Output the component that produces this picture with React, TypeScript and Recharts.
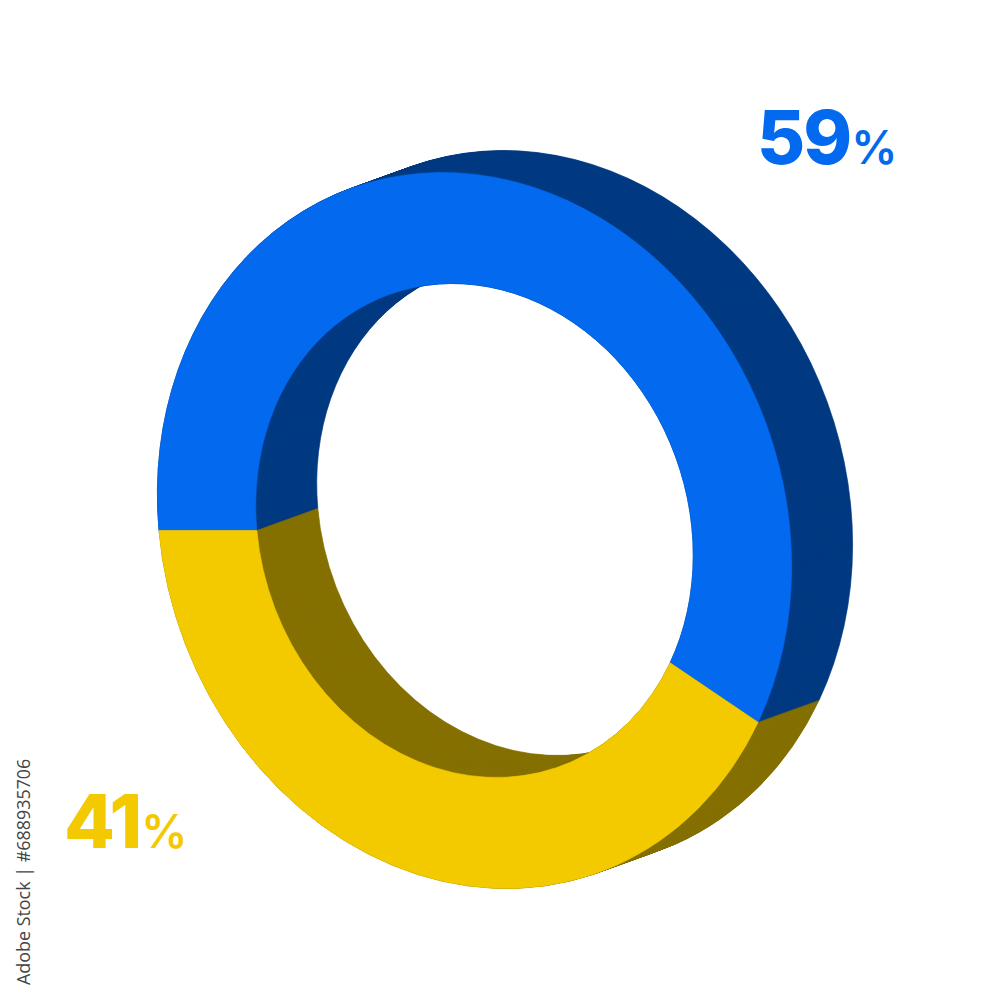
import React from 'react';
import { PieChart, Pie, Cell } from 'recharts';

const segments = ['Blue', 'Yellow'];
const values = [59, 41];
const frontColors = ['#0369ee', '#f3c900'];
const sideColors = ['#013a82', '#857000'];

// the flat ring is sheared into the tilted ellipse, all numbers in screen px
const RADIUS = 300;
const INNER_RATIO = 0.69;
const CENTER = { x: 474.5, y: 530.5 };
const SHEAR = { a: 315.5 / RADIUS, c: 32 / RADIUS, d: 358 / RADIUS };
const DEPTH = { x: 61, y: -22 };
const DEPTH_STEPS = 61;

const chartData = segments.map((name, i) => ({ name, value: values[i] }));

// screen offset -> offset before the shear
const toChartOffset = (dx: number, dy: number) => {
  const y = dy / SHEAR.d;
  return { x: (dx - SHEAR.c * y) / SHEAR.a, y };
};

const Ring: React.FC<{ dx: number; dy: number; colors: string[]; id: string }> = ({ dx, dy, colors, id }) => {
  const offset = toChartOffset(dx, dy);
  return (
    <Pie
      key={id}
      data={chartData}
      dataKey="value"
      nameKey="name"
      cx={500 + offset.x}
      cy={500 + offset.y}
      outerRadius={RADIUS}
      innerRadius={RADIUS * INNER_RATIO}
      startAngle={180}
      endAngle={-180}
      stroke="none"
      isAnimationActive={false}
    >
      {chartData.map((d, i) => (
        <Cell key={d.name} fill={colors[i]} stroke={colors[i]} strokeWidth={0.6} />
      ))}
    </Pie>
  );
};

const pctLabel = (value: number, color: string, left: number, top: number) => (
  <div
    style={{
      position: 'absolute',
      left,
      top,
      color,
      fontFamily: 'Inter, sans-serif',
      fontWeight: 800,
      whiteSpace: 'nowrap',
      lineHeight: 1,
    }}
  >
    <span style={{ fontSize: 74, letterSpacing: -2 }}>{value}</span>
    <span style={{ fontSize: 46, fontWeight: 600, marginLeft: 1 }}>%</span>
  </div>
);

const App: React.FC = () => {
  const steps = Array.from({ length: DEPTH_STEPS + 1 }, (_, i) => DEPTH_STEPS - i);
  return (
    <div style={{ position: 'absolute', left: 0, top: 0, width: 1000, height: 1000, background: '#fff', overflow: 'hidden' }}>
      <div
        style={{
          position: 'absolute',
          left: 0,
          top: 0,
          width: 1000,
          height: 1000,
          transformOrigin: '500px 500px',
          transform: `translate(${CENTER.x - 500}px, ${CENTER.y - 500}px) matrix(${SHEAR.a}, 0, ${SHEAR.c}, ${SHEAR.d}, 0, 0)`,
        }}
      >
        <PieChart width={1000} height={1000} margin={{ top: 0, right: 0, bottom: 0, left: 0 }}>
          {steps.map(k =>
            Ring({
              id: `side-${k}`,
              dx: (DEPTH.x * k) / DEPTH_STEPS,
              dy: (DEPTH.y * k) / DEPTH_STEPS,
              colors: sideColors,
            })
          )}
          {Ring({ id: 'front', dx: 0, dy: 0, colors: frontColors })}
        </PieChart>
      </div>
      {pctLabel(values[0], frontColors[0], 757, 100)}
      {pctLabel(values[1], frontColors[1], 64, 784)}
      <div
        style={{
          position: 'absolute',
          left: 13,
          top: 985,
          transformOrigin: '0 0',
          transform: 'rotate(-90deg)',
          fontFamily: '"Open Sans", sans-serif',
          fontSize: 17.9,
          lineHeight: '20px',
          color: '#444',
          whiteSpace: 'nowrap',
        }}
      >
        Adobe Stock | #688935706
      </div>
    </div>
  );
};

export default App;
